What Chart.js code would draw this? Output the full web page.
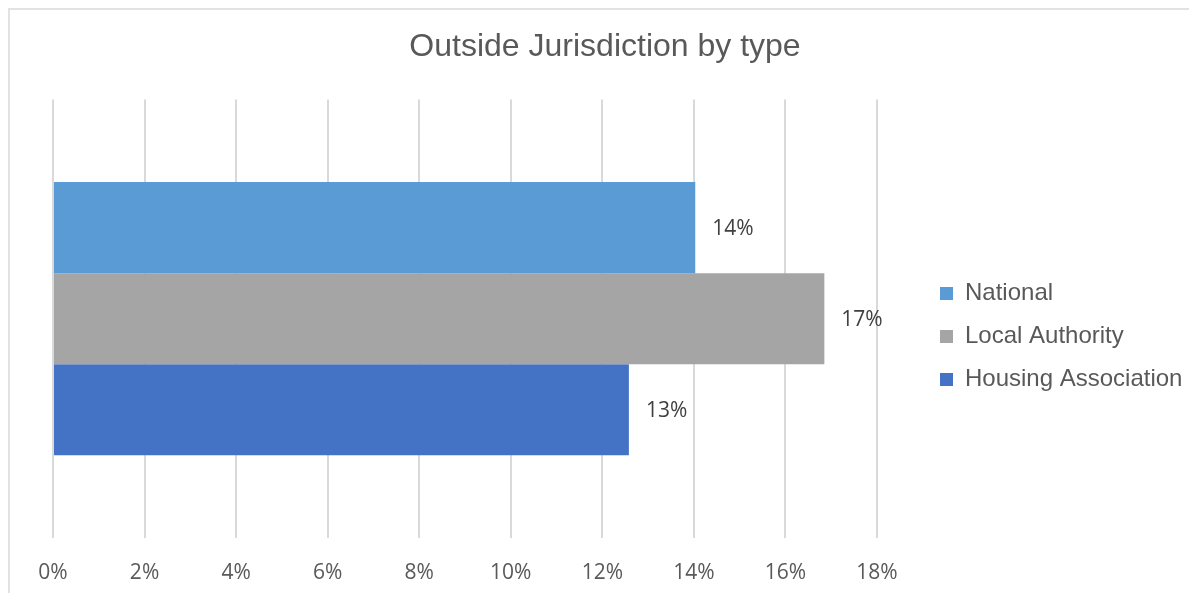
<!DOCTYPE html>
<html>
<head>
<meta charset="utf-8">
<script src="https://cdn.jsdelivr.net/npm/chart.js@4.4.1/dist/chart.umd.min.js"></script>
<style>
  html, body { margin: 0; padding: 0; background: #fff; overflow: hidden; }
  #wrap { position: relative; width: 1189px; height: 593px; }
  #frame {
    position: absolute; left: 8px; top: 8px; width: 1200px; height: 600px;
    border: 2px solid #e2e2e2; pointer-events: none;
  }
</style>
</head>
<body>
<div id="wrap">
  <canvas id="chart" width="1189" height="593"></canvas>
  <div id="frame"></div>
</div>
<script>
const TITLE = "Outside Jurisdiction by type";
const categories = ["Outside Jurisdiction"];
const seriesNames = ["National", "Local Authority", "Housing Association"];
const nationalValues = [14.03];
const localAuthorityValues = [16.85];
const housingAssociationValues = [12.58];
const seriesColors = ["#5B9BD5", "#A5A5A5", "#4472C4"];
const xTickStep = 2;
const xMax = 18;

const seriesValues = [nationalValues, localAuthorityValues, housingAssociationValues];

// draws the "14%" style labels just past the end of each bar
const barLabels = {
  id: "barLabels",
  afterDatasetsDraw(chart) {
    const ctx = chart.ctx;
    ctx.save();
    ctx.font = "21px 'Open Sans'";
    ctx.fillStyle = "#404040";
    ctx.textAlign = "left";
    ctx.textBaseline = "middle";
    chart.data.datasets.forEach((ds, i) => {
      const meta = chart.getDatasetMeta(i);
      meta.data.forEach((bar, j) => {
        const v = ds.data[j];
        ctx.fillText(Math.round(v) + "%", bar.x + 17, bar.y + 1);
      });
    });
    ctx.restore();
  }
};

// Excel leaves a gap between plot area and legend, and sits the legend a bit low
const legendPlacement = {
  id: "legendPlacement",
  beforeLayout(chart) {
    const lg = chart.legend;
    if (lg && !lg._patched) {
      const fit = lg.fit.bind(lg);
      lg.fit = function () { fit(); this.width = 312; };
      lg._patched = true;
    }
  },
  afterLayout(chart) {
    const lg = chart.legend;
    lg.left = chart.chartArea.right + 44;
    lg.right = chart.width;
    lg.top += 80;
  }
};

new Chart(document.getElementById("chart"), {
  type: "bar",
  data: {
    labels: categories,
    datasets: seriesNames.map((name, i) => ({
      label: name,
      data: seriesValues[i],
      backgroundColor: seriesColors[i],
      borderWidth: 0,
      categoryPercentage: 0.623,
      barPercentage: 1.0
    }))
  },
  options: {
    indexAxis: "y",
    responsive: false,
    animation: false,
    layout: { padding: { left: 21, right: 0, top: 0, bottom: 0 } },
    plugins: {
      title: {
        display: true,
        text: TITLE,
        color: "#595959",
        font: { family: "'Liberation Sans', Arial", size: 32, weight: "normal" },
        padding: { top: 28, bottom: 33 }
      },
      legend: {
        position: "right",
        labels: {
          color: "#595959",
          font: { family: "'Liberation Sans', Arial", size: 24 },
          boxWidth: 13,
          boxHeight: 13,
          padding: 19
        }
      },
      tooltip: { enabled: false }
    },
    scales: {
      x: {
        min: 0,
        max: xMax,
        ticks: {
          stepSize: xTickStep,
          padding: 22,
          color: "#595959",
          font: { family: "'Open Sans'", size: 21 },
          callback: v => v + "%"
        },
        grid: { color: "#d9d9d9", lineWidth: 2, drawTicks: false },
        border: { display: false },
        afterFit: s => { s.height = 55; }
      },
      y: {
        ticks: { display: false },
        grid: { display: false },
        border: { display: false },
        afterFit: s => { s.width = 32; }
      }
    }
  },
  plugins: [barLabels, legendPlacement]
});
</script>
</body>
</html>
